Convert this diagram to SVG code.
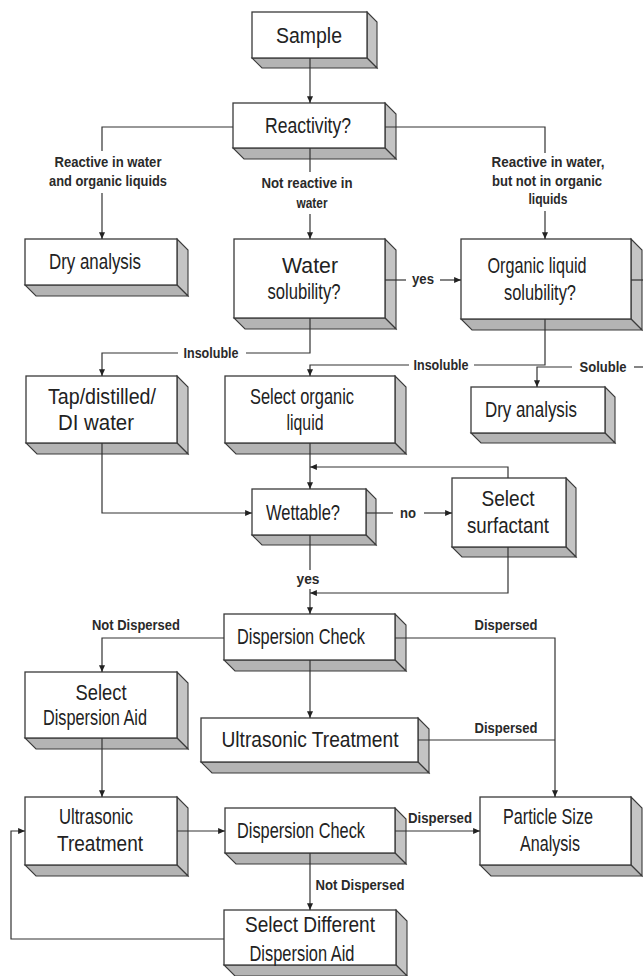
<svg xmlns="http://www.w3.org/2000/svg" width="643" height="976" viewBox="0 0 643 976">
<defs>
<style>
.f{fill:#fff;stroke:#3a3a3a;stroke-width:1.3}
.s{fill:#c4c4c4;stroke:#3a3a3a;stroke-width:1.1}
.b{fill:#b4b4b4;stroke:#3a3a3a;stroke-width:1.1}
.t{font-family:"Liberation Sans Narrow","Arial Narrow","Liberation Sans",Arial,sans-serif;font-size:21.5px;fill:#222;text-anchor:middle}
.l{font-family:"Liberation Sans Narrow","Arial Narrow","Liberation Sans",Arial,sans-serif;font-size:15.5px;font-weight:bold;fill:#2a2a2a;text-anchor:middle}
.c{fill:none;stroke:#333;stroke-width:1.2}
</style>
<marker id="ah" viewBox="0 0 8 7" refX="8" refY="3.5" markerWidth="7" markerHeight="6" markerUnits="userSpaceOnUse" orient="auto">
<path d="M0,0 L8,3.5 L0,7 z" fill="#222"/>
</marker>
</defs>
<rect width="643" height="976" fill="#fff"/>

<g id="sample">
<polygon class="s" points="367,12 377,22 377,68 367,58"/>
<polygon class="b" points="252,58 367,58 377,68 262,68"/>
<rect class="f" x="252" y="12" width="115" height="46"/>
<text class="t" x="309" y="43" textLength="66" lengthAdjust="spacingAndGlyphs">Sample</text>
</g>
<g id="reactivity">
<polygon class="s" points="385,103 396,114 396,159 385,148"/>
<polygon class="b" points="233,148 385,148 396,159 244,159"/>
<rect class="f" x="233" y="103" width="152" height="45"/>
<text class="t" x="308" y="133" textLength="86" lengthAdjust="spacingAndGlyphs">Reactivity?</text>
</g>
<g id="dry1">
<polygon class="s" points="177,239 188,250 188,296 177,285"/>
<polygon class="b" points="25,285 177,285 188,296 36,296"/>
<rect class="f" x="25" y="239" width="152" height="46"/>
<text class="t" x="95" y="269" textLength="92" lengthAdjust="spacingAndGlyphs">Dry analysis</text>
</g>
<g id="water">
<polygon class="s" points="385,239 396,250 396,329 385,318"/>
<polygon class="b" points="234,318 385,318 396,329 245,329"/>
<rect class="f" x="234" y="239" width="151" height="79"/>
<text class="t" x="310" y="273" textLength="56" lengthAdjust="spacingAndGlyphs">Water</text>
<text class="t" x="304" y="299" textLength="73" lengthAdjust="spacingAndGlyphs">solubility?</text>
</g>
<g id="organic">
<polygon class="s" points="631,239 642,250 642,330 631,319"/>
<polygon class="b" points="461,319 631,319 642,330 472,330"/>
<rect class="f" x="461" y="239" width="170" height="80"/>
<text class="t" x="537" y="273" textLength="99" lengthAdjust="spacingAndGlyphs">Organic liquid</text>
<text class="t" x="540" y="300" textLength="72" lengthAdjust="spacingAndGlyphs">solubility?</text>
</g>
<g id="tap">
<polygon class="s" points="177,376 188,387 188,454 177,443"/>
<polygon class="b" points="26,443 177,443 188,454 37,454"/>
<rect class="f" x="26" y="376" width="151" height="67"/>
<text class="t" x="102" y="404" textLength="108" lengthAdjust="spacingAndGlyphs">Tap/distilled/</text>
<text class="t" x="96" y="430" textLength="76" lengthAdjust="spacingAndGlyphs">DI water</text>
</g>
<g id="select-organic">
<polygon class="s" points="395,376 406,387 406,454 395,443"/>
<polygon class="b" points="225,443 395,443 406,454 236,454"/>
<rect class="f" x="225" y="376" width="170" height="67"/>
<text class="t" x="302" y="404" textLength="104" lengthAdjust="spacingAndGlyphs">Select organic</text>
<text class="t" x="305" y="430" textLength="37" lengthAdjust="spacingAndGlyphs">liquid</text>
</g>
<g id="dry2">
<polygon class="s" points="605,387 615,397 615,443 605,433"/>
<polygon class="b" points="471,433 605,433 615,443 481,443"/>
<rect class="f" x="471" y="387" width="134" height="46"/>
<text class="t" x="531" y="417" textLength="92" lengthAdjust="spacingAndGlyphs">Dry analysis</text>
</g>
<g id="wettable">
<polygon class="s" points="366,489 376,499 376,545 366,535"/>
<polygon class="b" points="252,535 366,535 376,545 262,545"/>
<rect class="f" x="252" y="489" width="114" height="46"/>
<text class="t" x="303" y="520" textLength="74" lengthAdjust="spacingAndGlyphs">Wettable?</text>
</g>
<g id="surfactant">
<polygon class="s" points="566,478 576,488 576,557 566,547"/>
<polygon class="b" points="452,547 566,547 576,557 462,557"/>
<rect class="f" x="452" y="478" width="114" height="69"/>
<text class="t" x="508" y="506" textLength="53" lengthAdjust="spacingAndGlyphs">Select</text>
<text class="t" x="508" y="533" textLength="82" lengthAdjust="spacingAndGlyphs">surfactant</text>
</g>
<g id="dispersion-check-1">
<polygon class="s" points="395,614 406,625 406,671 395,660"/>
<polygon class="b" points="224,660 395,660 406,671 235,671"/>
<rect class="f" x="224" y="614" width="171" height="46"/>
<text class="t" x="301" y="644" textLength="128" lengthAdjust="spacingAndGlyphs">Dispersion Check</text>
</g>
<g id="select-dispersion-aid">
<polygon class="s" points="177,672 188,683 188,749 177,738"/>
<polygon class="b" points="25,738 177,738 188,749 36,749"/>
<rect class="f" x="25" y="672" width="152" height="66"/>
<text class="t" x="101" y="700" textLength="51" lengthAdjust="spacingAndGlyphs">Select</text>
<text class="t" x="95" y="725" textLength="104" lengthAdjust="spacingAndGlyphs">Dispersion Aid</text>
</g>
<g id="ultrasonic-1">
<polygon class="s" points="418,718 429,729 429,773 418,762"/>
<polygon class="b" points="201,762 418,762 429,773 212,773"/>
<rect class="f" x="201" y="718" width="217" height="44"/>
<text class="t" x="310" y="747" textLength="177" lengthAdjust="spacingAndGlyphs">Ultrasonic Treatment</text>
</g>
<g id="ultrasonic-2">
<polygon class="s" points="177,797 188,808 188,876 177,865"/>
<polygon class="b" points="25,865 177,865 188,876 36,876"/>
<rect class="f" x="25" y="797" width="152" height="68"/>
<text class="t" x="96" y="824" textLength="74" lengthAdjust="spacingAndGlyphs">Ultrasonic</text>
<text class="t" x="100" y="851" textLength="86" lengthAdjust="spacingAndGlyphs">Treatment</text>
</g>
<g id="dispersion-check-2">
<polygon class="s" points="395,808 406,819 406,864 395,853"/>
<polygon class="b" points="225,853 395,853 406,864 236,864"/>
<rect class="f" x="225" y="808" width="170" height="45"/>
<text class="t" x="301" y="838" textLength="128" lengthAdjust="spacingAndGlyphs">Dispersion Check</text>
</g>
<g id="particle-size">
<polygon class="s" points="631,797 642,808 642,876 631,865"/>
<polygon class="b" points="480,865 631,865 642,876 491,876"/>
<rect class="f" x="480" y="797" width="151" height="68"/>
<text class="t" x="548" y="824" textLength="90" lengthAdjust="spacingAndGlyphs">Particle Size</text>
<text class="t" x="550" y="851" textLength="60" lengthAdjust="spacingAndGlyphs">Analysis</text>
</g>
<g id="select-different">
<polygon class="s" points="396,910 407,921 407,976 396,965"/>
<polygon class="b" points="224,965 396,965 407,976 235,976"/>
<rect class="f" x="224" y="910" width="172" height="55"/>
<text class="t" x="310" y="932" textLength="130" lengthAdjust="spacingAndGlyphs">Select Different</text>
<text class="t" x="302" y="961" textLength="105" lengthAdjust="spacingAndGlyphs">Dispersion Aid</text>
</g>

<g id="connectors">
<path class="c" d="M310,58 V103" marker-end="url(#ah)"/>
<path class="c" d="M233,127 H102 V151"/>
<path class="c" d="M102,193 V239" marker-end="url(#ah)"/>
<path class="c" d="M310,148 V172"/>
<path class="c" d="M310,214 V239" marker-end="url(#ah)"/>
<path class="c" d="M385,127 H545 V153"/>
<path class="c" d="M545,211 V239" marker-end="url(#ah)"/>
<path class="c" d="M385,280 H406"/>
<path class="c" d="M440,280 H461" marker-end="url(#ah)"/>
<path class="c" d="M631,280 H650"/>
<path class="c" d="M650,367 H634"/>
<path class="c" d="M572,367 H537 V387" marker-end="url(#ah)"/>
<path class="c" d="M310,318 V353 H246"/>
<path class="c" d="M178,353 H102 V376" marker-end="url(#ah)"/>
<path class="c" d="M545,319 V365 H474"/>
<path class="c" d="M409,365 H310 V376" marker-end="url(#ah)"/>
<path class="c" d="M102,443 V513 H252" marker-end="url(#ah)"/>
<path class="c" d="M310,443 V489" marker-end="url(#ah)"/>
<path class="c" d="M508,478 V467 H310" marker-end="url(#ah)"/>
<path class="c" d="M366,513 H393"/>
<path class="c" d="M424,513 H452" marker-end="url(#ah)"/>
<path class="c" d="M310,535 V570"/>
<path class="c" d="M310,589 V614" marker-end="url(#ah)"/>
<path class="c" d="M508,547 V593 H310" marker-end="url(#ah)"/>
<path class="c" d="M224,638 H102 V672" marker-end="url(#ah)"/>
<path class="c" d="M395,638 H555 V797" marker-end="url(#ah)"/>
<path class="c" d="M310,660 V718" marker-end="url(#ah)"/>
<path class="c" d="M418,740 H555"/>
<path class="c" d="M102,738 V797" marker-end="url(#ah)"/>
<path class="c" d="M177,831 H225" marker-end="url(#ah)"/>
<path class="c" d="M395,831 H480" marker-end="url(#ah)"/>
<path class="c" d="M310,853 V910" marker-end="url(#ah)"/>
<path class="c" d="M224,939 H11 V831 H25" marker-end="url(#ah)"/>

<text class="l" x="108" y="167" textLength="107" lengthAdjust="spacingAndGlyphs">Reactive in water</text>
<text class="l" x="108" y="186" textLength="118" lengthAdjust="spacingAndGlyphs">and organic liquids</text>
<text class="l" x="307" y="188" textLength="91" lengthAdjust="spacingAndGlyphs">Not reactive in</text>
<text class="l" x="312" y="208" textLength="31" lengthAdjust="spacingAndGlyphs">water</text>
<text class="l" x="548" y="167" textLength="113" lengthAdjust="spacingAndGlyphs">Reactive in water,</text>
<text class="l" x="547" y="186" textLength="110" lengthAdjust="spacingAndGlyphs">but not in organic</text>
<text class="l" x="548" y="204" textLength="39" lengthAdjust="spacingAndGlyphs">liquids</text>
<text class="l" x="423" y="284" textLength="22" lengthAdjust="spacingAndGlyphs">yes</text>
<text class="l" x="211" y="358" textLength="55" lengthAdjust="spacingAndGlyphs">Insoluble</text>
<text class="l" x="441" y="370" textLength="55" lengthAdjust="spacingAndGlyphs">Insoluble</text>
<text class="l" x="603" y="372" textLength="47" lengthAdjust="spacingAndGlyphs">Soluble</text>
<text class="l" x="408" y="518" textLength="16" lengthAdjust="spacingAndGlyphs">no</text>
<text class="l" x="308" y="584" textLength="23" lengthAdjust="spacingAndGlyphs">yes</text>
<text class="l" x="136" y="630" textLength="88" lengthAdjust="spacingAndGlyphs">Not Dispersed</text>
<text class="l" x="506" y="630" textLength="63" lengthAdjust="spacingAndGlyphs">Dispersed</text>
<text class="l" x="506" y="733" textLength="63" lengthAdjust="spacingAndGlyphs">Dispersed</text>
<text class="l" x="440" y="823" textLength="64" lengthAdjust="spacingAndGlyphs">Dispersed</text>
<text class="l" x="360" y="890" textLength="89" lengthAdjust="spacingAndGlyphs">Not Dispersed</text>
</g>
</svg>
